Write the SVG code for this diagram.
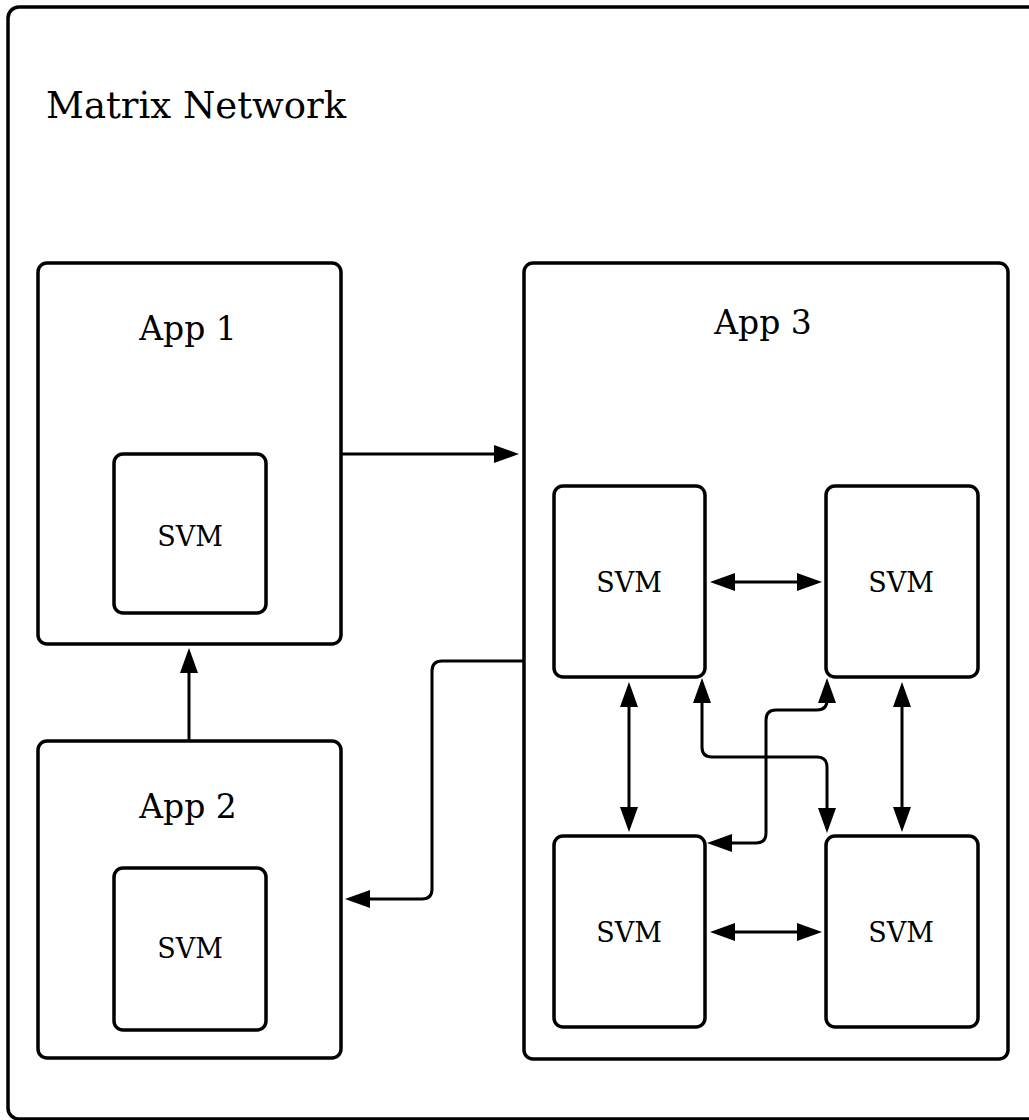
<svg xmlns="http://www.w3.org/2000/svg" width="1029" height="1120" viewBox="0 0 1029 1120">
  <style>
    .box { fill: none; stroke: #000; stroke-width: 3.5; }
    .frame { fill: #fff; stroke: #000; stroke-width: 3.5; }
    .title { font-family: "DejaVu Serif", "Liberation Serif", serif; font-size: 37px; fill: #000; }
    .app { font-family: "DejaVu Serif", "Liberation Serif", serif; font-size: 33px; fill: #000; text-anchor: middle; }
    .svm { font-family: "DejaVu Serif", "Liberation Serif", serif; font-size: 27px; fill: #000; text-anchor: middle; }
    .edge { fill: none; stroke: #000; stroke-width: 3; }
    .one { marker-end: url(#head); }
    .two { marker-start: url(#head); marker-end: url(#head); }
  </style>
  <defs>
    <marker id="head" markerUnits="userSpaceOnUse" markerWidth="25" markerHeight="18" refX="20" refY="9" orient="auto-start-reverse" overflow="visible">
      <path d="M0,0 L25,9 L0,18 z" fill="#000"/>
    </marker>
  </defs>

  <rect width="1029" height="1120" fill="#fff"/>

  <g id="matrix-network">
    <rect class="frame" x="8" y="7" width="1040" height="1112" rx="11"/>
    <text class="title" x="46" y="118">Matrix Network</text>
  </g>

  <g id="app1">
    <rect class="box" x="38" y="263" width="303" height="381" rx="9"/>
    <text class="app" x="188" y="340">App 1</text>
  </g>
  <g id="app1-svm">
    <rect class="box" x="114" y="454" width="152" height="159" rx="9"/>
    <text class="svm" x="190" y="546">SVM</text>
  </g>

  <g id="app2">
    <rect class="box" x="38" y="741" width="303" height="317" rx="9"/>
    <text class="app" x="188" y="818">App 2</text>
  </g>
  <g id="app2-svm">
    <rect class="box" x="114" y="868" width="152" height="162" rx="9"/>
    <text class="svm" x="190" y="958">SVM</text>
  </g>

  <g id="app3">
    <rect class="box" x="524" y="263" width="484" height="796" rx="9"/>
    <text class="app" x="763" y="334">App 3</text>
  </g>
  <g id="app3-svm-tl">
    <rect class="box" x="554" y="486" width="151" height="191" rx="9"/>
    <text class="svm" x="629" y="592">SVM</text>
  </g>
  <g id="app3-svm-tr">
    <rect class="box" x="826" y="486" width="152" height="191" rx="9"/>
    <text class="svm" x="901" y="592">SVM</text>
  </g>
  <g id="app3-svm-bl">
    <rect class="box" x="554" y="836" width="151" height="191" rx="9"/>
    <text class="svm" x="629" y="942">SVM</text>
  </g>
  <g id="app3-svm-br">
    <rect class="box" x="826" y="836" width="152" height="191" rx="9"/>
    <text class="svm" x="901" y="942">SVM</text>
  </g>

  <g id="connectors">
    <!-- App 1 to App 3 -->
    <path class="edge one" d="M342,454 H514"/>
    <!-- App 2 up to App 1 -->
    <path class="edge one" d="M189,740 V653"/>
    <!-- App 3 back to App 2 -->
    <path class="edge one" d="M523,661 H442 Q432,661 432,671 V889 Q432,899 422,899 H350"/>
    <!-- SVM mesh inside App 3 -->
    <path class="edge two" d="M715,582 H817"/>
    <path class="edge two" d="M715,932 H817"/>
    <path class="edge two" d="M629,687 V827"/>
    <path class="edge two" d="M902,687 V827"/>
    <path class="edge two" d="M702,683 V747 Q702,757 712,757 H817 Q827,757 827,767 V828"/>
    <path class="edge two" d="M827,683 V700 Q827,710 817,710 H776 Q766,710 766,720 V833 Q766,843 756,843 H712"/>
  </g>
</svg>
